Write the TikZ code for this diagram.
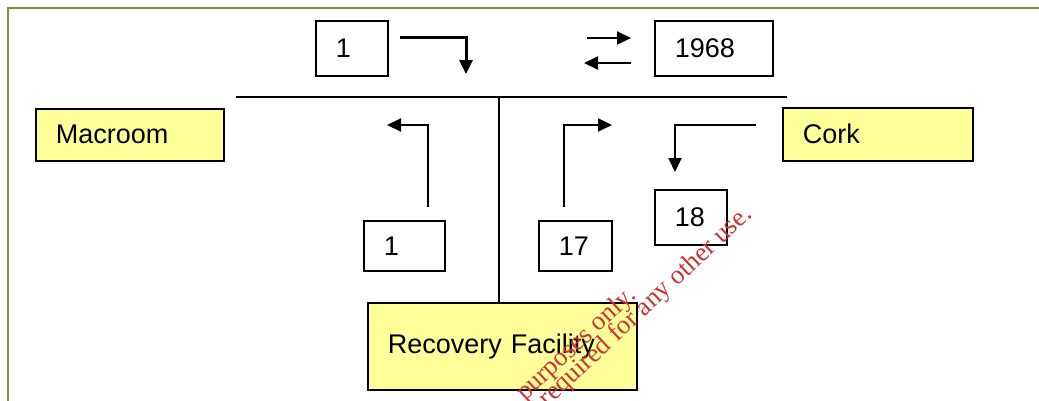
\documentclass[tikz,border=0pt]{standalone}
\usepackage{fontspec}
\setmainfont{Liberation Sans}
\newfontfamily\wmfont{Liberation Serif}
\usetikzlibrary{arrows.meta}
\definecolor{boxyellow}{RGB}{255,255,153}
\definecolor{frameolive}{RGB}{118,146,60}
\definecolor{wmred}{RGB}{204,51,51}
\begin{document}
\begin{tikzpicture}[x=1pt,y=-1pt,
  lbl/.style={draw=black, line width=1.6pt, inner xsep=20pt, inner ysep=0pt, align=left, anchor=north west, font=\fontsize{27}{30}\selectfont},
  place/.style={lbl, fill=boxyellow},
  numbox/.style={lbl, fill=white},
  flow/.style={line width=2pt, -{Triangle[length=14pt,width=13pt]}},
  wm/.style={text=wmred, font=\wmfont\fontsize{26.5}{28}\selectfont, rotate=43, anchor=base east, inner sep=0pt}
]
\useasboundingbox (0,0) rectangle (1039,400);
\fill[white] (0,0) rectangle (1039,400);
\draw[frameolive, line width=2pt] (8,401) -- (8,7.5) -- (1040,7.5);

% boxes
\node[numbox, text width=32pt, minimum height=55pt] (top1) at (315,20) {1};
\node[numbox, text width=78pt, minimum height=55pt] (n1968) at (654,20) {1968};
\node[place, text width=148pt, minimum height=52pt] (macroom) at (35,108) {Macroom};
\node[place, text width=150pt, minimum height=53pt] (cork) at (782,107) {Cork};
\node[numbox, text width=41pt, minimum height=50pt] (b1) at (363,220) {1};
\node[numbox, text width=33pt, minimum height=50pt] (b17) at (538,220) {17};
\node[numbox, text width=32pt, minimum height=55pt] (b18) at (654,189) {18};
\node[place, text width=229pt, minimum height=87pt] (rec) at (367,302) {Recovery Facility};

% main lines
\coordinate (hl) at (236,97);
\coordinate (hr) at (787,97);
\coordinate (vt) at (499,97);
\draw[line width=2pt] (hl) -- (hr);
\draw[line width=2pt] (vt) -- (vt |- rec.north);

% arrows
\coordinate (a1s) at (400,37);
\coordinate (a1e) at (466,74);
\draw[flow, line width=3pt] (a1s) -| (a1e);

\coordinate (x1s) at (587,38);
\coordinate (x1e) at (631,38);
\coordinate (x2s) at (631,63);
\coordinate (x2e) at (584,63);
\draw[flow] (x1s) -- (x1e);
\draw[flow] (x2s) -- (x2e);

\coordinate (ls) at (428,207);
\coordinate (le) at (387,125);
\draw[flow] (ls) |- (le);

\coordinate (rs) at (564,207);
\coordinate (re) at (612,125);
\draw[flow] (rs) |- (re);

\coordinate (cs) at (756,125);
\coordinate (ce) at (675,172);
\draw[flow] (cs) -| (ce);

% watermark
\node[wm] (wm1) at (637,297) {purposes only.};
\node[wm] (wm2) at (753,216) {required for any other use.};
\end{tikzpicture}
\end{document}
